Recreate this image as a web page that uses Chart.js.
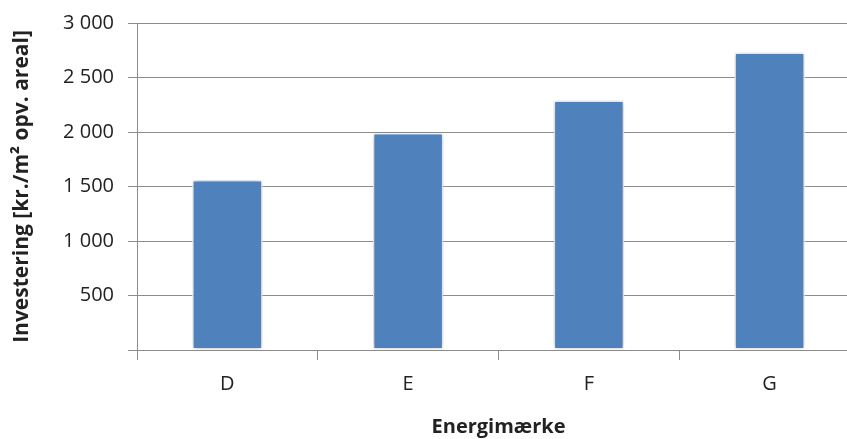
<!DOCTYPE html>
<html>
<head>
<meta charset="utf-8">
<script src="https://cdn.jsdelivr.net/npm/chart.js@4/dist/chart.umd.min.js"></script>
<style>
  html, body { margin: 0; padding: 0; background: #fff; overflow: hidden; }
  #wrap { width: 862px; height: 439px; }
</style>
</head>
<body>
<div id="wrap"><canvas id="c" width="862" height="439"></canvas></div>
<script>
/* ---------- data ---------- */
const categories = ['D', 'E', 'F', 'G'];
const investment = [1560, 1990, 2290, 2730];
const yTicks = [0, 500, 1000, 1500, 2000, 2500, 3000];

const FONT = '"Open Sans", Lato, sans-serif';
const GRID = '#8c8c8c';

// soft shadow behind the bars, Excel style
const barShadow = {
  id: 'barShadow',
  beforeDatasetsDraw(chart) {
    const c = chart.ctx;
    c.save();
    c.shadowColor = 'rgba(0,0,0,0.3)';
    c.shadowBlur = 5;
    c.shadowOffsetX = 0;
    c.shadowOffsetY = 0;
  },
  afterDatasetsDraw(chart) { chart.ctx.restore(); }
};

const spaced = v => v === 0 ? '' : String(v).replace(/\B(?=(\d{3})+(?!\d))/g, ' ');

new Chart(document.getElementById('c'), {
  type: 'bar',
  data: {
    labels: categories,
    datasets: [{
      data: investment,
      backgroundColor: '#4f81bd',
      borderColor: '#ffffff',
      borderWidth: 1.5,
      borderSkipped: false,
      barPercentage: 0.39,
      categoryPercentage: 1
    }]
  },
  options: {
    responsive: false,
    animation: false,
    layout: { padding: { top: 23, right: 2, left: 9, bottom: 0 } },
    plugins: { legend: { display: false }, tooltip: { enabled: false } },
    scales: {
      x: {
        grid: { drawOnChartArea: false, offset: true, color: GRID, tickLength: 10 },
        border: { color: GRID },
        ticks: { color: '#222', font: { family: FONT, size: 20 }, padding: 12 },
        title: {
          display: true, text: 'Energimærke', color: '#222',
          font: { family: FONT, size: 20, weight: 'bold' }, padding: { top: 13, bottom: 0 }
        },
        afterFit: s => { s.height = 89; }
      },
      y: {
        min: 0, max: 3000,
        afterBuildTicks: s => { s.ticks = yTicks.map(v => ({ value: v })); },
        grid: { color: GRID, tickLength: 9 },
        border: { color: GRID },
        ticks: { color: '#222', font: { family: FONT, size: 20 }, padding: 14, callback: spaced },
        title: {
          display: true, text: 'Investering [kr./m² opv. areal]', color: '#222',
          font: { family: FONT, size: 21, weight: 'bold' }, padding: { top: 0, bottom: 4 }
        },
        afterFit: s => { s.width = 128; s.paddingTop = 0; }
      }
    }
  },
  plugins: [barShadow]
});
</script>
</body>
</html>
